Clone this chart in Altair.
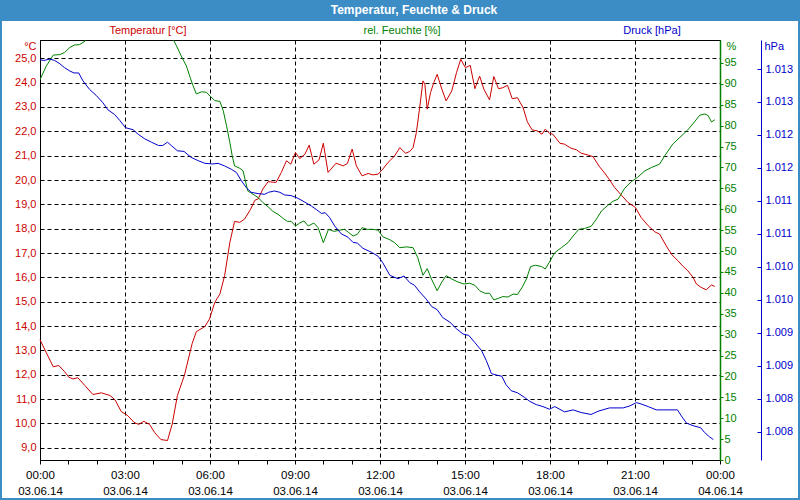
import altair as alt
import pandas as pd

TITLE = "Temperatur, Feuchte & Druck"
SERIES = ["Temperatur [°C]", "rel. Feuchte [%]", "Druck [hPa]"]
UNITS = ["°C", "%", "hPa"]
DATE_LABELS = ["03.06.14", "04.06.14"]

# minutes after 00:00 on 03.06.14
temp_min = [0, 13, 28, 40, 52, 61, 70, 80, 95, 112,
            130, 148, 159, 172, 186, 199, 209, 220, 232, 243,
            256, 270, 280, 291, 306, 322, 331, 349, 359, 370,
            381, 391, 402, 412, 423, 433, 446, 455, 462, 472,
            483, 500, 511, 522, 531, 541, 550, 561, 570, 580,
            591, 600, 610, 627, 642, 651, 661, 670, 682, 695,
            705, 716, 726, 737, 751, 762, 774, 783, 790, 797,
            804, 811, 815, 820, 827, 834, 841, 851, 860, 872,
            882, 891, 901, 911, 921, 931, 940, 952, 961, 971,
            980, 990, 1000, 1011, 1023, 1032, 1042, 1053, 1063, 1070,
            1079, 1086, 1101, 1111, 1124, 1136, 1146, 1160, 1171, 1185,
            1196, 1206, 1217, 1231, 1245, 1261, 1273, 1288, 1302, 1312,
            1326, 1338, 1351, 1362, 1372, 1383, 1390, 1400, 1411, 1422,
            1429]
temp_val = [13.44, 12.92, 12.33, 12.38, 12.13, 11.90, 11.83, 11.88, 11.56, 11.19,
            11.26, 11.15, 10.97, 10.49, 10.32, 10.05, 9.96, 10.09, 9.96, 9.62,
            9.34, 9.30, 9.98, 11.15, 11.99, 13.27, 13.77, 13.98, 14.29, 14.97,
            15.32, 16.07, 17.43, 18.30, 18.26, 18.39, 18.80, 19.17, 19.22, 19.63,
            19.93, 19.90, 20.31, 20.79, 20.65, 21.13, 20.88, 21.06, 21.43, 20.65,
            20.83, 21.51, 20.31, 20.69, 20.58, 20.68, 21.27, 20.58, 20.17, 20.27,
            20.21, 20.24, 20.45, 20.72, 20.99, 21.33, 21.10, 21.17, 21.33, 21.95,
            22.97, 24.07, 23.93, 22.91, 23.59, 24.00, 24.34, 23.73, 23.25, 23.66,
            24.41, 24.96, 24.61, 24.71, 23.75, 24.27, 23.73, 23.29, 24.25, 23.75,
            23.79, 23.89, 23.34, 23.38, 22.97, 22.39, 22.06, 22.02, 21.88, 22.09,
            21.92, 21.88, 21.51, 21.47, 21.31, 21.24, 21.10, 21.03, 20.96, 20.54,
            20.28, 20.01, 19.69, 19.38, 19.08, 18.87, 18.46, 18.12, 17.87, 17.78,
            17.30, 16.93, 16.68, 16.45, 16.27, 16.00, 15.73, 15.59, 15.49, 15.69,
            15.63]

hum_min = [0, 13, 28, 42, 52, 63, 73, 84, 95, 98,
           278, 289, 299, 310, 319, 324, 331, 342, 352, 370,
           381, 388, 395, 402, 407, 412, 423, 430, 435, 440,
           451, 462, 472, 483, 493, 504, 515, 524, 532, 541,
           550, 559, 568, 580, 589, 600, 611, 623, 635, 645,
           654, 663, 672, 682, 693, 705, 716, 726, 741, 751,
           762, 776, 790, 800, 811, 820, 829, 841, 851, 860,
           872, 885, 898, 910, 921, 931, 942, 952, 961, 971,
           980, 991, 1002, 1011, 1021, 1030, 1039, 1049, 1062, 1070,
           1079, 1090, 1104, 1118, 1129, 1141, 1153, 1167, 1178, 1189,
           1201, 1213, 1224, 1238, 1252, 1265, 1281, 1295, 1312, 1323,
           1340, 1355, 1371, 1386, 1397, 1408, 1415, 1422, 1429]
hum_val = [91.0, 94.2, 96.9, 97.0, 97.5, 98.7, 99.3, 99.4, 100.2, 101.5,
           101.5, 99.1, 96.7, 94.3, 91.2, 89.6, 87.6, 88.1, 88.0, 86.0,
           85.8, 83.6, 80.0, 76.0, 72.8, 70.4, 69.8, 69.2, 66.8, 64.4,
           63.6, 62.8, 61.6, 60.6, 59.5, 58.8, 57.8, 57.1, 57.1, 56.0,
           56.7, 57.2, 56.0, 56.7, 55.6, 52.0, 55.2, 54.7, 55.0, 55.2,
           54.4, 53.6, 54.0, 55.6, 55.2, 55.2, 55.0, 53.4, 52.7, 52.0,
           50.8, 51.0, 50.8, 48.4, 44.2, 45.8, 43.3, 40.5, 42.6, 44.1,
           43.3, 42.6, 42.1, 42.3, 41.8, 40.5, 39.9, 39.9, 38.3, 38.7,
           39.1, 39.0, 39.7, 39.6, 41.3, 43.3, 46.3, 46.6, 46.3, 45.7,
           47.4, 49.6, 50.8, 52.0, 53.6, 55.2, 55.4, 55.9, 57.6, 59.6,
           60.8, 61.9, 62.4, 65.0, 66.6, 67.6, 69.2, 70.0, 70.8, 72.8,
           75.6, 77.2, 78.9, 80.9, 82.5, 82.8, 82.4, 80.9, 81.4]

pres_min = [0, 8, 21, 31, 42, 52, 63, 72, 82, 91,
            105, 119, 133, 144, 158, 169, 181, 197, 208, 222,
            236, 251, 260, 270, 278, 291, 305, 320, 335, 349,
            366, 377, 391, 405, 416, 426, 437, 447, 462, 476,
            484, 496, 508, 518, 532, 546, 561, 575, 585, 596,
            604, 613, 624, 638, 652, 663, 672, 684, 702, 716,
            726, 741, 758, 771, 783, 793, 804, 818, 829, 841,
            853, 868, 882, 896, 908, 921, 935, 945, 956, 966,
            978, 987, 998, 1011, 1026, 1037, 1051, 1065, 1079, 1090,
            1111, 1129, 1146, 1167, 1182, 1206, 1235, 1249, 1263, 1273,
            1288, 1305, 1350, 1358, 1369, 1383, 1399, 1407, 1418, 1426]
pres_val = [1013.14, 1013.13, 1013.15, 1013.13, 1013.08, 1013.02, 1012.97, 1012.94, 1012.94, 1012.82,
            1012.69, 1012.60, 1012.49, 1012.38, 1012.31, 1012.22, 1012.11, 1012.08, 1012.01, 1011.94,
            1011.89, 1011.84, 1011.84, 1011.89, 1011.84, 1011.76, 1011.75, 1011.66, 1011.61, 1011.57,
            1011.56, 1011.57, 1011.53, 1011.48, 1011.43, 1011.31, 1011.20, 1011.13, 1011.11, 1011.10,
            1011.13, 1011.15, 1011.13, 1011.09, 1011.08, 1011.04, 1010.98, 1010.92, 1010.87, 1010.81,
            1010.82, 1010.75, 1010.62, 1010.50, 1010.45, 1010.37, 1010.36, 1010.28, 1010.22, 1010.16,
            1010.06, 1009.87, 1009.82, 1009.86, 1009.76, 1009.72, 1009.62, 1009.51, 1009.40, 1009.35,
            1009.23, 1009.16, 1009.06, 1008.98, 1008.96, 1008.85, 1008.73, 1008.58, 1008.38, 1008.36,
            1008.34, 1008.21, 1008.12, 1008.09, 1008.02, 1007.96, 1007.91, 1007.88, 1007.84, 1007.88,
            1007.80, 1007.83, 1007.79, 1007.76, 1007.81, 1007.86, 1007.86, 1007.89, 1007.94, 1007.92,
            1007.88, 1007.83, 1007.83, 1007.74, 1007.63, 1007.59, 1007.56, 1007.49, 1007.42, 1007.38]

temp_ticks = list(range(9, 26))
hum_ticks = list(range(0, 100, 5))
pres_ticks = [1007.5, 1008.0, 1008.5, 1009.0, 1009.5, 1010.0,
              1010.5, 1011.0, 1011.5, 1012.0, 1012.5, 1013.0]
hour_ticks = list(range(0, 25))

RED = "#cc0000"
GREEN = "#008000"
BLUE = "#0000cc"
FRAME = "#3c8dc6"
FONT = "Liberation Sans"


def frame(mins, vals, name):
    return pd.DataFrame({"hour": [m / 60 for m in mins], name: vals})


df_t = frame(temp_min, temp_val, "temp")
df_h = frame(hum_min, hum_val, "hum")
df_p = frame(pres_min, pres_val, "pres")

xscale = alt.Scale(domain=[0, 24], nice=False, zero=False)
label_expr = (
    "datum.value % 3 === 0 ? ["
    "(datum.value % 24 < 10 ? '0' : '') + (datum.value % 24) + ':00', "
    f"datum.value < 24 ? '{DATE_LABELS[0]}' : '{DATE_LABELS[1]}'] : ''"
)
xaxis = alt.Axis(
    values=hour_ticks, tickCount=25, labelExpr=label_expr,
    labelOverlap=False, labelFlush=False, labelLineHeight=16,
    labelBaseline="top", labelPadding=5,
    labelColor="black", labelFontSize=11.5, labelFont=FONT,
    tickSize=4, tickColor="black", domainColor="black",
    grid=True, gridColor="black", gridDash=[4, 3],
    gridOpacity={"condition": {"test": "datum.value % 3 === 0", "value": 1}, "value": 0},
    title=None,
)
X = alt.X("hour:Q", scale=xscale, axis=xaxis)

temp = alt.Chart(df_t).mark_line(color=RED, strokeWidth=1).encode(
    x=X,
    y=alt.Y("temp:Q", scale=alt.Scale(domain=[8.5, 25.75], nice=False, zero=False),
            axis=alt.Axis(orient="left", values=temp_ticks, ticks=False, labelPadding=4,
                          labelExpr="replace(format(datum.value, '.1f'), '.', ',')",
                          labelColor=RED, labelFontSize=11, labelFont=FONT,
                          domainColor="black", grid=True, gridColor="black", gridDash=[4, 3],
                          title=UNITS[0], titleAngle=0, titleAlign="right", titleBaseline="middle",
                          titleX=-4, titleY=6, titleColor=RED, titleFontSize=11,
                          titleFontWeight="normal", titleFont=FONT)),
)

hum = alt.Chart(df_h).mark_line(color=GREEN, strokeWidth=1, clip=True).encode(
    x=X,
    y=alt.Y("hum:Q", scale=alt.Scale(domain=[0, 100.5], nice=False, zero=False),
            axis=alt.Axis(orient="right", values=hum_ticks, tickSize=3, tickColor=GREEN,
                          labelPadding=1, labelColor=GREEN, labelFontSize=11, labelFont=FONT,
                          domainColor=GREEN, domainWidth=1.5, grid=False,
                          title=UNITS[1], titleAngle=0, titleAlign="left", titleBaseline="middle",
                          titleX=6, titleY=6, titleColor=GREEN, titleFontSize=11,
                          titleFontWeight="normal", titleFont=FONT)),
)

pscale = alt.Scale(domain=[1007.07, 1013.44], nice=False, zero=False)
pres = alt.Chart(df_p).mark_line(color=BLUE, strokeWidth=1).encode(
    x=X,
    y=alt.Y("pres:Q", scale=pscale,
            axis=alt.Axis(orient="right", offset=37, values=pres_ticks, domain=False,
                          tickSize=4, tickColor=BLUE, labelPadding=4,
                          labelExpr="format(round(datum.value) / 1000, '.3f')",
                          labelColor=BLUE, labelFontSize=11, labelFont=FONT, grid=False,
                          title=None)),
)

pres_axis_line = alt.Chart(df_p).mark_line(strokeOpacity=0).encode(
    x=X,
    y=alt.Y("pres:Q", scale=pscale,
            axis=alt.Axis(orient="right", offset=41, labels=False, ticks=False,
                          domainColor=BLUE, grid=False,
                          title=UNITS[2], titleAngle=0, titleAlign="left", titleBaseline="middle",
                          titleX=3, titleY=6, titleColor=BLUE, titleFontSize=11,
                          titleFontWeight="normal", titleFont=FONT)),
)


def text_layer(label, x, y, color, size=11, weight="normal"):
    return alt.Chart(pd.DataFrame({"label": [label]})).mark_text(
        color=color, fontSize=size, fontWeight=weight, font=FONT,
        align="center", baseline="middle",
    ).encode(text="label:N", x=alt.value(x), y=alt.value(y))


one = pd.DataFrame({"k": [0]})
title_bar = alt.Chart(one).mark_rect(color=FRAME).encode(
    x=alt.value(-40), x2=alt.value(760), y=alt.value(-40), y2=alt.value(-19))
border = alt.Chart(one).mark_rect(fillOpacity=0, stroke=FRAME, strokeWidth=2).encode(
    x=alt.value(-39), x2=alt.value(759), y=alt.value(-39), y2=alt.value(459))

chart = alt.layer(
    title_bar, border,
    temp, hum, pres, pres_axis_line,
    text_layer(TITLE, 374, -30, "white", 12, "bold"),
    text_layer(SERIES[0], 108, -9, RED),
    text_layer(SERIES[1], 362, -9, GREEN),
    text_layer(SERIES[2], 612, -9, BLUE),
).resolve_scale(y="independent").properties(
    width=680, height=420,
    autosize=alt.AutoSizeParams(type="none"),
    padding={"left": 40, "top": 40, "right": 80, "bottom": 40},
    background="white",
).configure_view(stroke="black", strokeWidth=1)

chart.save("out.html", embed_options={"renderer": "svg", "actions": False})
